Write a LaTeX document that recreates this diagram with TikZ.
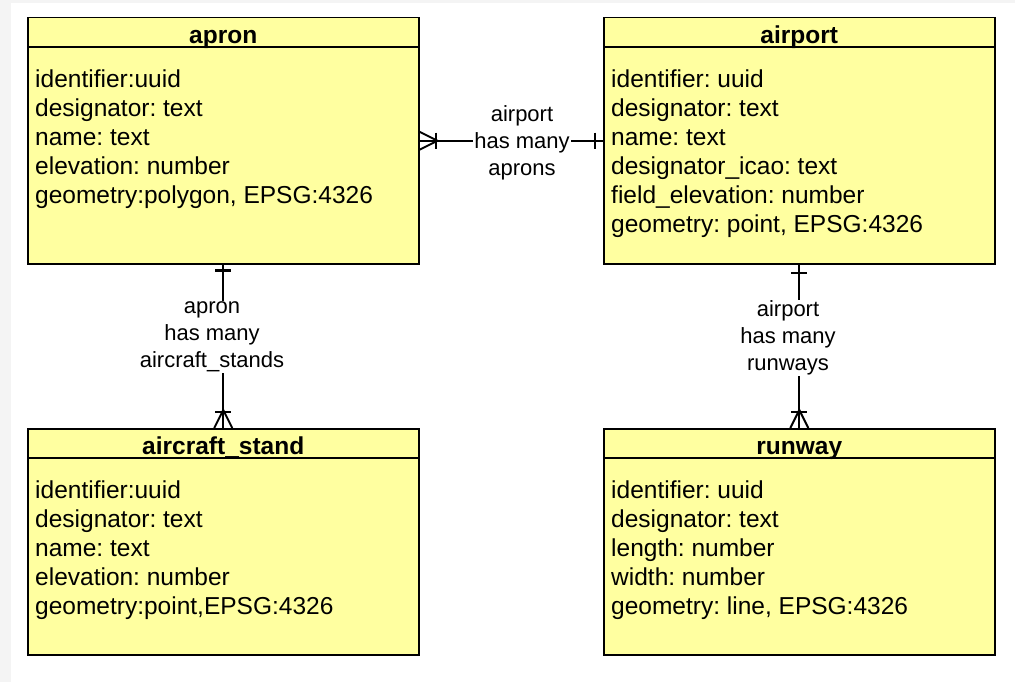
\documentclass[tikz,border=0pt]{standalone}
\usepackage{fontspec}
\setmainfont{Liberation Sans}
\usetikzlibrary{calc}
\definecolor{entyellow}{RGB}{255,255,160}
\definecolor{pagegray}{RGB}{244,244,244}
\frenchspacing

\begin{document}
\begin{tikzpicture}[x=1pt,y=-1pt,
  entity/.style={draw,line width=1.5pt,fill=entyellow,minimum width=391pt,inner sep=0pt,anchor=north west},
  title/.style={font=\bfseries\fontsize{24.5}{29}\selectfont,anchor=base,inner sep=0pt},
  fields/.style={font=\fontsize{24.5}{29}\selectfont,align=left,anchor=north west,inner sep=0pt},
  rel/.style={font=\fontsize{22}{27}\selectfont,align=center,fill=white,inner sep=1pt},
  conn/.style={line width=2pt}]
  \useasboundingbox (0,0) rectangle (1015,682);
  \fill[pagegray] (0,0) rectangle (11,682);
  \fill[pagegray] (0,0) rectangle (1015,3);
  % entities
  \node[entity,minimum height=246pt] (apron) at (27,17) {};
  \node[entity,minimum height=246pt] (airport) at (603,17) {};
  \node[entity,minimum height=226pt] (stand) at (27,428) {};
  \node[entity,minimum height=226pt] (runway) at (603,428) {};
  \foreach \e in {apron,airport,stand,runway}
    \draw[line width=1.5pt] ($(\e.north west)+(0,30)$) -- ($(\e.north east)+(0,30)$);
  \node[title] (apron-t) at ($(apron.north)+(0,26.5)$) {apron};
  \node[title] (airport-t) at ($(airport.north)+(0,26.5)$) {airport};
  \node[title] (stand-t) at ($(stand.north)+(0,26.5)$) {aircraft\_stand};
  \node[title] (runway-t) at ($(runway.north)+(0,26.5)$) {runway};
  \node[fields] (apron-f) at ($(apron.north west)+(8,52.5)$)
    {identifier:uuid\\designator: text\\name: text\\elevation: number\\geometry:polygon, EPSG:4326};
  \node[fields] (airport-f) at ($(airport.north west)+(8,52.5)$)
    {identifier: uuid\\designator: text\\name: text\\designator\_icao: text\\field\_elevation: number\\geometry: point, EPSG:4326};
  \node[fields] (stand-f) at ($(stand.north west)+(8,52.5)$)
    {identifier:uuid\\designator: text\\name: text\\elevation: number\\geometry:point,EPSG:4326};
  \node[fields] (runway-f) at ($(runway.north west)+(8,52.5)$)
    {identifier: uuid\\designator: text\\length: number\\width: number\\geometry: line, EPSG:4326};
  % apron -- airport
  \draw[conn] (apron.east) -- (airport.west);
  \draw[conn] ($(apron.east)+(0,-9)$) -- ($(apron.east)+(18,0)$) -- ($(apron.east)+(0,9)$);
  \draw[conn] ($(apron.east)+(16,-8)$) -- ($(apron.east)+(16,8)$);
  \draw[conn] ($(airport.west)+(-8,-8)$) -- ($(airport.west)+(-8,8)$);
  \node[rel] (rel-aprons) at (522,142.5) {airport\\has many\\aprons};
  % apron -- aircraft_stand
  \draw[conn] (apron.south) -- (stand.north);
  \draw[line width=3.5pt] ($(apron.south)+(-8,6)$) -- ($(apron.south)+(8,6)$);
  \draw[conn] ($(stand.north)+(-9,0)$) -- ($(stand.north)+(0,-18)$) -- ($(stand.north)+(9,0)$);
  \draw[conn] ($(stand.north)+(-8,-16)$) -- ($(stand.north)+(8,-16)$);
  \node[rel] (rel-stands) at (212,337) {apron\\has many\\aircraft\_stands};
  % airport -- runway
  \draw[conn] (airport.south) -- (runway.north);
  \draw[conn] ($(airport.south)+(-8,8)$) -- ($(airport.south)+(8,8)$);
  \draw[conn] ($(runway.north)+(-9,0)$) -- ($(runway.north)+(0,-18)$) -- ($(runway.north)+(9,0)$);
  \draw[conn] ($(runway.north)+(-8,-16)$) -- ($(runway.north)+(8,-16)$);
  \node[rel] (rel-runways) at (788,338) {airport\\has many\\runways};
\end{tikzpicture}
\end{document}
